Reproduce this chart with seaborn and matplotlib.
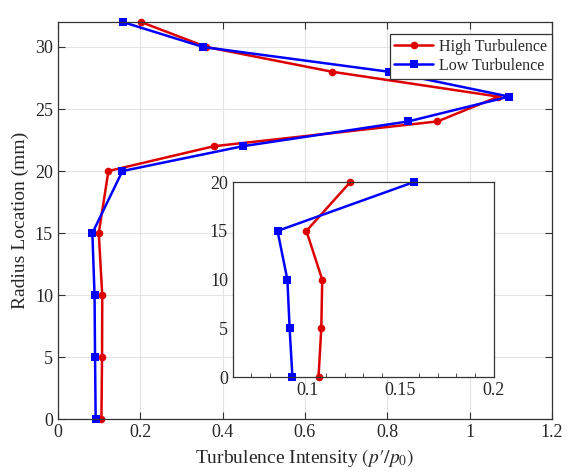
import pandas as pd
import seaborn as sns
import matplotlib.pyplot as plt
from matplotlib.ticker import MultipleLocator

# radius locations (mm) and turbulence intensity
radius = [0, 5, 10, 15, 20, 22, 24, 26, 28, 30, 32]
high_ti = [0.106, 0.1075, 0.108, 0.0995, 0.123, 0.379, 0.922, 1.07, 0.667, 0.361, 0.203]
low_ti = [0.092, 0.0905, 0.0893, 0.084, 0.157, 0.449, 0.851, 1.096, 0.805, 0.353, 0.159]

inset_radius = [0, 5, 10, 15, 20]

sns.set_style("whitegrid")
plt.rcParams['font.family'] = ['Liberation Serif', 'DejaVu Serif']
plt.rcParams['mathtext.fontset'] = 'stix'

df = pd.DataFrame({'radius': radius, 'High Turbulence': high_ti, 'Low Turbulence': low_ti})

fig = plt.figure(figsize=(5.72, 4.72), dpi=100)
ax = fig.add_axes([0.101, 0.112, 0.864, 0.841])

sns.lineplot(data=df, x='High Turbulence', y='radius', sort=False, estimator=None,
             color='#dd0000', marker='o', markersize=5.5, markeredgewidth=0,
             linewidth=1.8, label='High Turbulence', ax=ax, clip_on=False)
sns.lineplot(data=df, x='Low Turbulence', y='radius', sort=False, estimator=None,
             color='#0000ff', marker='s', markersize=5.5, markeredgewidth=0,
             linewidth=1.8, label='Low Turbulence', ax=ax, clip_on=False)

ax.set_xlim(0, 1.2)
ax.set_ylim(0, 32)
ax.set_xticks([0, 0.2, 0.4, 0.6, 0.8, 1, 1.2])
ax.set_xticklabels(['0', '0.2', '0.4', '0.6', '0.8', '1', '1.2'])
ax.set_yticks([0, 5, 10, 15, 20, 25, 30])
ax.set_xlabel(r"Turbulence Intensity $(p\prime/p_0)$", fontsize=14)
ax.set_ylabel('Radius Location (mm)', fontsize=14)
ax.tick_params(labelsize=13, direction='in', length=5, top=True, right=True,
               bottom=True, left=True, color='#333333')
ax.grid(color='#e3e3e3', linewidth=0.8)
for s in ax.spines.values():
    s.set_color('#333333')
    s.set_linewidth(0.9)

leg = ax.legend(loc='upper right', bbox_to_anchor=(1.0, 0.97), fontsize=11.5,
                fancybox=False, edgecolor='#333333', framealpha=1,
                handlelength=2.4, borderpad=0.3, labelspacing=0.2,
                borderaxespad=0.0, handletextpad=0.4)
leg.get_frame().set_linewidth(0.9)

# inset zoom of lower region
ins = fig.add_axes([0.407, 0.201, 0.456, 0.413])
sub = df[df['radius'].isin(inset_radius)]
sns.lineplot(data=sub, x='High Turbulence', y='radius', sort=False, estimator=None,
             color='#dd0000', marker='o', markersize=5.5, markeredgewidth=0,
             linewidth=1.8, ax=ins, legend=False, clip_on=False)
sns.lineplot(data=sub, x='Low Turbulence', y='radius', sort=False, estimator=None,
             color='#0000ff', marker='s', markersize=5.5, markeredgewidth=0,
             linewidth=1.8, ax=ins, legend=False, clip_on=False)
ins.set_xlim(0.06, 0.2)
ins.set_ylim(0, 20)
ins.set_xticks([0.1, 0.15, 0.2])
ins.set_xticklabels(['0.1', '0.15', '0.2'])
ins.set_yticks([0, 5, 10, 15, 20])
ins.xaxis.set_minor_locator(MultipleLocator(0.01))
ins.grid(False)
ins.set_facecolor('white')
ins.set_xlabel('')
ins.set_ylabel('')
ins.tick_params(labelsize=13, direction='in', length=5, color='#333333')
ins.tick_params(which='minor', direction='in', length=3, bottom=True, color='#333333')
for s in ins.spines.values():
    s.set_color('#333333')
    s.set_linewidth(0.9)

fig.savefig('out.png', dpi=100)
